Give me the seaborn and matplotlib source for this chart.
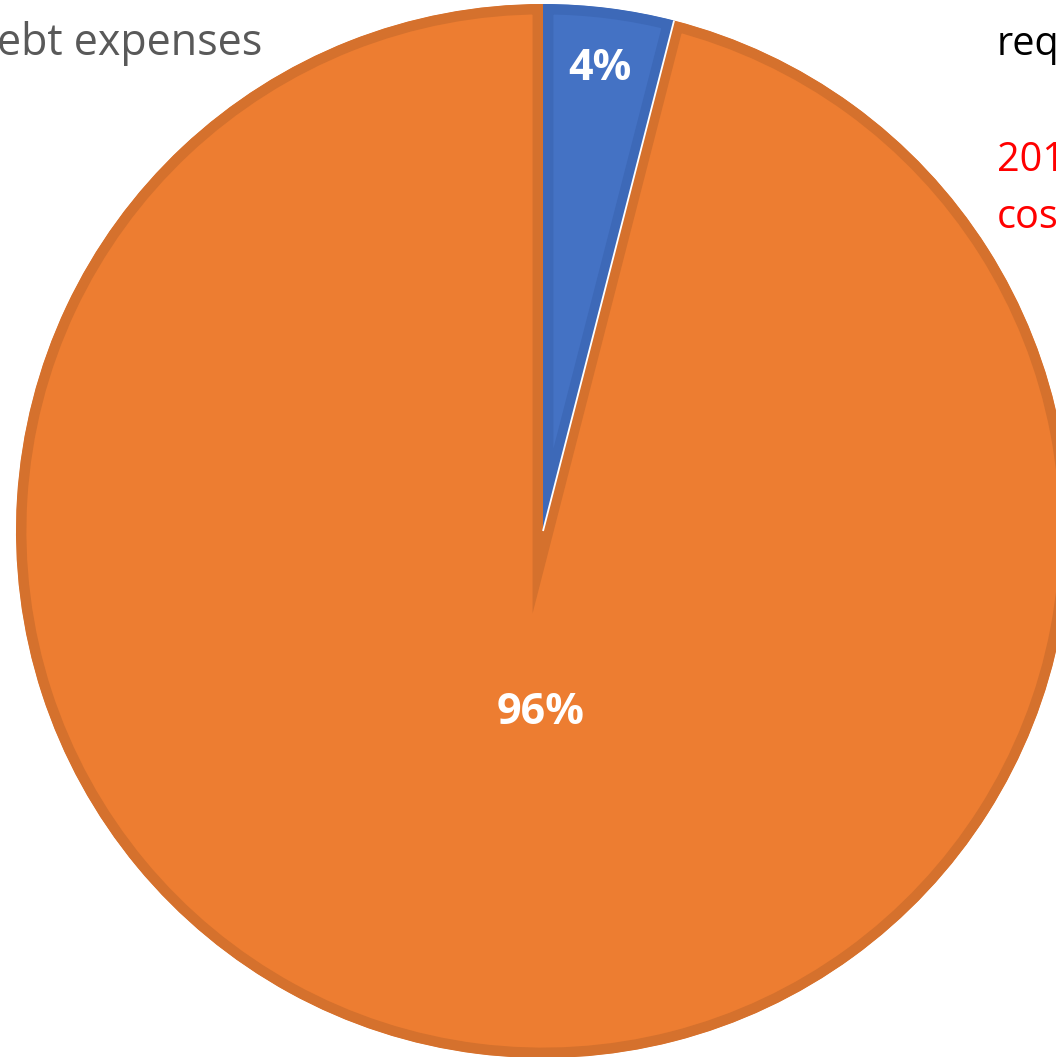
import numpy as np
import matplotlib
matplotlib.use("Agg")
import matplotlib.pyplot as plt
import seaborn as sns

# ---- data ----
categories = ["Debt expenses", "Other"]
shares = [4, 96]
slice_colors = ["#4472C4", "#ED7D31"]
edge_colors = ["#3D69B8", "#D5712D"]

title_text = "ebt expenses"
right_text = "req"
note_lines = ["201", "cos"]

sns.set_theme(style="white")
plt.rcParams['font.family'] = ['Open Sans', 'DejaVu Sans']

W, H = 1056, 1057
fig = plt.figure(figsize=(W / 100, H / 100), dpi=100)
ax = fig.add_axes([0, 0, 1, 1])

cx, cy, R = 543, H - 531, 527
wedges, _ = ax.pie(shares, colors=slice_colors, startangle=90, counterclock=False,
                   center=(cx, cy), radius=R, frame=True,
                   wedgeprops=dict(linewidth=15, joinstyle='miter'))
ax.set_xlim(0, W)
ax.set_ylim(0, H)
ax.set_aspect('equal')
ax.axis('off')
for w, ec in zip(wedges, edge_colors):
    w.set_edgecolor(ec)
    w.set_clip_on(True)
    w.set_clip_path(w.get_path(), w.get_transform())

# thin white seam along the boundary where the small slice ends
bw = wedges[0]
t = np.deg2rad(bw.theta1)
ax.plot([bw.center[0], bw.center[0] + bw.r * np.cos(t)],
        [bw.center[1], bw.center[1] + bw.r * np.sin(t)],
        color='white', lw=1.3, solid_capstyle='butt', zorder=5)

# percentage labels: (radius fraction, angle deg)
label_pos = [(0.885, 83.0), (0.345, -90.6)]
total = sum(shares)
for v, (rf, ang) in zip(shares, label_pos):
    a = np.deg2rad(ang)
    ax.text(cx + rf * R * np.cos(a), cy + rf * R * np.sin(a), f"{round(v / total * 100)}%",
            ha='center', va='center', color='white', fontsize=31, fontweight='bold', zorder=6)

fig.text(-3 / W, 1 - 55 / H, title_text, ha='left', va='baseline', color='#595959', fontsize=31)
fig.text(997 / W, 1 - 55 / H, right_text, ha='left', va='baseline', color='black', fontsize=28.5)
for i, line in enumerate(note_lines):
    fig.text(997 / W, 1 - (171 + 57 * i) / H, line, ha='left', va='baseline', color='#FF0000', fontsize=28.5)

fig.savefig("out.png", dpi=100)
